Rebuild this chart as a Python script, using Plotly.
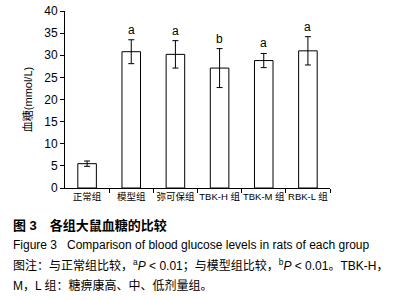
import plotly.graph_objects as go

categories = ["正常组", "模型组", "弥可保组", "TBK-H 组", "TBK-M 组", "RBK-L 组"]
glucose = [5.5, 30.8, 30.2, 27.1, 28.8, 31.0]
errors = [0.6, 2.7, 3.1, 4.4, 1.6, 3.2]
sig_labels = ["", "a", "a", "b", "a", "a"]
y_ticks = [0, 5, 10, 15, 20, 25, 30, 35, 40]

FONT = "Liberation Sans, Arial, Noto Sans CJK SC, sans-serif"
xpos = list(range(len(categories)))

fig = go.Figure()
fig.add_trace(go.Bar(
    x=xpos, y=glucose, width=0.42,
    marker=dict(color="white", line=dict(color="black", width=1)),
    error_y=dict(type="data", array=errors, color="black", thickness=1, width=3),
    showlegend=False, hoverinfo="skip",
))
# boundary tick marks on secondary x axis
fig.add_trace(go.Scatter(x=[-0.5, 5.5], y=[None, None], xaxis="x2", showlegend=False,
                         hoverinfo="skip"))

for i, (v, e, s) in enumerate(zip(glucose, errors, sig_labels)):
    if s:
        fig.add_annotation(x=i, y=v + e, text=s, showarrow=False, yanchor="bottom",
                           yshift=1, font=dict(size=12, color="black", family=FONT))

fig.update_layout(
    width=403, height=300,
    margin=dict(l=65, r=73, t=11, b=112, autoexpand=False),
    paper_bgcolor="white", plot_bgcolor="white",
    font=dict(family=FONT, color="black"),
    bargap=0.5,
    xaxis=dict(range=[-0.5, 5.5], tickvals=xpos, ticktext=categories, ticks="",
               tickangle=0, automargin=False,
               showline=True, linecolor="black", linewidth=1, showgrid=False,
               zeroline=False, tickfont=dict(size=9.5), fixedrange=True),
    xaxis2=dict(range=[-0.5, 5.5], overlaying="x", side="bottom", automargin=False,
                tickvals=[0.5, 1.5, 2.5, 3.5, 4.5, 5.5], ticks="outside", ticklen=4,
                tickcolor="black", showticklabels=False, showgrid=False,
                zeroline=False, showline=False),
    yaxis=dict(range=[0, 40], tickvals=y_ticks, ticks="outside", ticklen=4,
               tickcolor="black", showline=True, linecolor="black", linewidth=1,
               showgrid=False, zeroline=False, tickfont=dict(size=12), automargin=False,
               title=dict(text="血糖(mmol/L)", font=dict(size=11), standoff=9)),
)

caption = [
    ("<b>图 3　各组大鼠血糖的比较</b>", 225, 13),
    ("Figure 3\u00a0\u00a0\u00a0Comparison of blood glucose levels in rats of each group", 245, 12),
    ("图注：与正常组比较，<sup>a</sup><i>P</i> < 0.01；与模型组比较，<sup>b</sup><i>P</i> < 0.01。TBK-H，", 265, 12),
    ("M，L 组：糖痹康高、中、低剂量组。", 285, 12),
]
for text, ypx, sz in caption:
    fig.add_annotation(xref="paper", yref="paper", x=(11 - 65) / 265, y=(300 - 112 - ypx) / 177,
                       xanchor="left", yanchor="middle", text=text, showarrow=False,
                       font=dict(size=sz, color="black", family=FONT))

fig.write_html("out.html", config={"displayModeBar": False},
               post_script="document.body.style.margin='0';")
